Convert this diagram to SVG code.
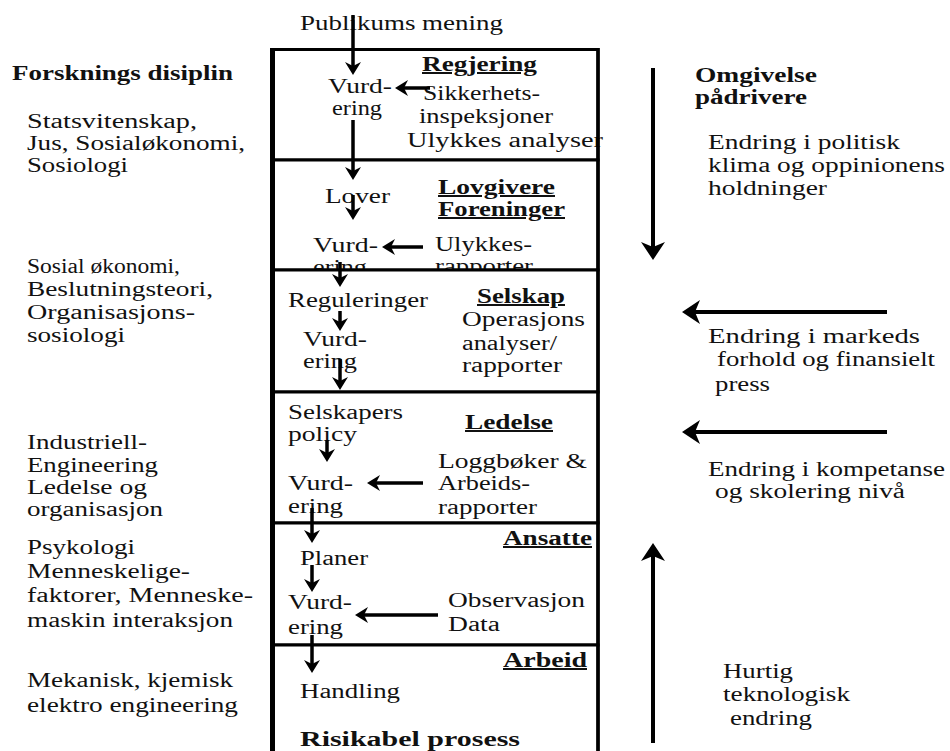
<svg xmlns="http://www.w3.org/2000/svg" width="950" height="751" viewBox="0 0 950 751">
<style>
.t{fill:#111}
.b{font-weight:bold}
.u{text-decoration:underline}
.row{fill:#fff;stroke:#000;stroke-width:3}
.frame{stroke:#000;fill:none}
.c{stroke:#000;stroke-width:3.5;fill:none;marker-end:url(#ah)}
.cl{stroke:#000;stroke-width:4;fill:none;marker-end:url(#ahL)}
</style>
<defs>
<marker id="ah" viewBox="0 0 13 16" markerWidth="13" markerHeight="16" refX="4" refY="8" orient="auto" markerUnits="userSpaceOnUse">
<path d="M0,0 L13,8 L0,16 L4,8 Z" fill="#000"/>
</marker>
<marker id="ahL" viewBox="0 0 18 24" markerWidth="18" markerHeight="24" refX="5" refY="12" orient="auto" markerUnits="userSpaceOnUse">
<path d="M0,0 L18,12 L0,24 L5,12 Z" fill="#000"/>
</marker>
</defs>
<rect width="950" height="751" fill="#fff"/>

<g id="publikum">
<text class="t" font-family="Liberation Serif" font-size="20" x="300" y="30" textLength="203" lengthAdjust="spacingAndGlyphs">Publikums mening</text>
</g>

<g id="regjering">
<rect class="row" x="272.5" y="49.5" width="325.5" height="110.5"/>
<text class="t b u" font-family="Liberation Serif" font-size="20" x="422" y="71" textLength="115" lengthAdjust="spacingAndGlyphs">Regjering</text>
<text class="t" font-family="Liberation Serif" font-size="20" x="328" y="93" textLength="64" lengthAdjust="spacingAndGlyphs">Vurd-</text>
<text class="t" font-family="Liberation Serif" font-size="20" x="332" y="115" textLength="50" lengthAdjust="spacingAndGlyphs">ering</text>
<text class="t" font-family="Liberation Serif" font-size="20" x="423" y="100" textLength="117" lengthAdjust="spacingAndGlyphs">Sikkerhets-</text>
<text class="t" font-family="Liberation Serif" font-size="20" x="419" y="123" textLength="134" lengthAdjust="spacingAndGlyphs">inspeksjoner</text>
<text class="t" font-family="Liberation Serif" font-size="20" x="407" y="147" textLength="196" lengthAdjust="spacingAndGlyphs">Ulykkes analyser</text>
</g>

<g id="lovgivere">
<rect class="row" x="272.5" y="160" width="325.5" height="110"/>
<text class="t" font-family="Liberation Serif" font-size="20" x="325" y="203" textLength="65" lengthAdjust="spacingAndGlyphs">Lover</text>
<text class="t b u" font-family="Liberation Serif" font-size="20" x="438" y="194" textLength="117" lengthAdjust="spacingAndGlyphs">Lovgivere</text>
<text class="t b u" font-family="Liberation Serif" font-size="20" x="438" y="216" textLength="127" lengthAdjust="spacingAndGlyphs">Foreninger</text>
<text class="t" font-family="Liberation Serif" font-size="20" x="313" y="252" textLength="65" lengthAdjust="spacingAndGlyphs">Vurd-</text>
<text class="t" font-family="Liberation Serif" font-size="20" x="313" y="274" textLength="54" lengthAdjust="spacingAndGlyphs">ering</text>
<text class="t" font-family="Liberation Serif" font-size="20" x="435" y="251" textLength="97" lengthAdjust="spacingAndGlyphs">Ulykkes-</text>
<text class="t" font-family="Liberation Serif" font-size="20" x="435" y="273" textLength="98" lengthAdjust="spacingAndGlyphs">rapporter</text>
</g>

<g id="selskap">
<rect class="row" x="272.5" y="270" width="325.5" height="122"/>
<text class="t" font-family="Liberation Serif" font-size="20" x="288" y="307" textLength="140" lengthAdjust="spacingAndGlyphs">Reguleringer</text>
<text class="t" font-family="Liberation Serif" font-size="20" x="303" y="346" textLength="64" lengthAdjust="spacingAndGlyphs">Vurd-</text>
<text class="t" font-family="Liberation Serif" font-size="20" x="303" y="368" textLength="54" lengthAdjust="spacingAndGlyphs">ering</text>
<text class="t b u" font-family="Liberation Serif" font-size="20" x="477" y="303" textLength="88" lengthAdjust="spacingAndGlyphs">Selskap</text>
<text class="t" font-family="Liberation Serif" font-size="20" x="462" y="326" textLength="123" lengthAdjust="spacingAndGlyphs">Operasjons</text>
<text class="t" font-family="Liberation Serif" font-size="20" x="462" y="350" textLength="95" lengthAdjust="spacingAndGlyphs">analyser/</text>
<text class="t" font-family="Liberation Serif" font-size="20" x="462" y="372" textLength="100" lengthAdjust="spacingAndGlyphs">rapporter</text>
</g>

<g id="ledelse">
<rect class="row" x="272.5" y="392" width="325.5" height="131"/>
<text class="t" font-family="Liberation Serif" font-size="20" x="288" y="419" textLength="115" lengthAdjust="spacingAndGlyphs">Selskapers</text>
<text class="t" font-family="Liberation Serif" font-size="20" x="288" y="441" textLength="69" lengthAdjust="spacingAndGlyphs">policy</text>
<text class="t b u" font-family="Liberation Serif" font-size="20" x="465" y="429" textLength="88" lengthAdjust="spacingAndGlyphs">Ledelse</text>
<text class="t" font-family="Liberation Serif" font-size="20" x="288" y="490" textLength="65" lengthAdjust="spacingAndGlyphs">Vurd-</text>
<text class="t" font-family="Liberation Serif" font-size="20" x="288" y="513" textLength="55" lengthAdjust="spacingAndGlyphs">ering</text>
<text class="t" font-family="Liberation Serif" font-size="20" x="438" y="468" textLength="149" lengthAdjust="spacingAndGlyphs">Loggbøker &amp;</text>
<text class="t" font-family="Liberation Serif" font-size="20" x="438" y="490" textLength="92" lengthAdjust="spacingAndGlyphs">Arbeids-</text>
<text class="t" font-family="Liberation Serif" font-size="20" x="438" y="514" textLength="99" lengthAdjust="spacingAndGlyphs">rapporter</text>
</g>

<g id="ansatte">
<rect class="row" x="272.5" y="523" width="325.5" height="122"/>
<text class="t b u" font-family="Liberation Serif" font-size="20" x="503" y="545" textLength="89" lengthAdjust="spacingAndGlyphs">Ansatte</text>
<text class="t" font-family="Liberation Serif" font-size="20" x="300" y="565" textLength="68" lengthAdjust="spacingAndGlyphs">Planer</text>
<text class="t" font-family="Liberation Serif" font-size="20" x="288" y="609" textLength="64" lengthAdjust="spacingAndGlyphs">Vurd-</text>
<text class="t" font-family="Liberation Serif" font-size="20" x="288" y="634" textLength="55" lengthAdjust="spacingAndGlyphs">ering</text>
<text class="t" font-family="Liberation Serif" font-size="20" x="448" y="607" textLength="137" lengthAdjust="spacingAndGlyphs">Observasjon</text>
<text class="t" font-family="Liberation Serif" font-size="20" x="448" y="631" textLength="52" lengthAdjust="spacingAndGlyphs">Data</text>
</g>

<g id="arbeid">
<rect class="row" x="272.5" y="645" width="325.5" height="120"/>
<text class="t b u" font-family="Liberation Serif" font-size="20" x="503" y="667" textLength="84" lengthAdjust="spacingAndGlyphs">Arbeid</text>
<text class="t" font-family="Liberation Serif" font-size="20" x="300" y="698" textLength="100" lengthAdjust="spacingAndGlyphs">Handling</text>
<text class="t b" font-family="Liberation Serif" font-size="20" x="300" y="746" textLength="220" lengthAdjust="spacingAndGlyphs">Risikabel prosess</text>
</g>

<g id="frame">
<line class="frame" x1="272.5" y1="48" x2="272.5" y2="760" stroke-width="5"/>
<line class="frame" x1="598" y1="48" x2="598" y2="760" stroke-width="3.5"/>
</g>

<g id="forskning">
<text class="t b" font-family="Liberation Serif" font-size="20" x="12" y="80" textLength="221" lengthAdjust="spacingAndGlyphs">Forsknings disiplin</text>
<text class="t" font-family="Liberation Serif" font-size="20" x="27" y="128" textLength="170" lengthAdjust="spacingAndGlyphs">Statsvitenskap,</text>
<text class="t" font-family="Liberation Serif" font-size="20" x="27" y="150" textLength="218" lengthAdjust="spacingAndGlyphs">Jus, Sosialøkonomi,</text>
<text class="t" font-family="Liberation Serif" font-size="20" x="27" y="172" textLength="101" lengthAdjust="spacingAndGlyphs">Sosiologi</text>
<text class="t" font-family="Liberation Serif" font-size="20" x="27" y="273" textLength="153" lengthAdjust="spacingAndGlyphs">Sosial økonomi,</text>
<text class="t" font-family="Liberation Serif" font-size="20" x="27" y="296" textLength="186" lengthAdjust="spacingAndGlyphs">Beslutningsteori,</text>
<text class="t" font-family="Liberation Serif" font-size="20" x="27" y="319" textLength="168" lengthAdjust="spacingAndGlyphs">Organisasjons-</text>
<text class="t" font-family="Liberation Serif" font-size="20" x="27" y="342" textLength="98" lengthAdjust="spacingAndGlyphs">sosiologi</text>
<text class="t" font-family="Liberation Serif" font-size="20" x="27" y="449" textLength="120" lengthAdjust="spacingAndGlyphs">Industriell-</text>
<text class="t" font-family="Liberation Serif" font-size="20" x="27" y="472" textLength="131" lengthAdjust="spacingAndGlyphs">Engineering</text>
<text class="t" font-family="Liberation Serif" font-size="20" x="27" y="494" textLength="120" lengthAdjust="spacingAndGlyphs">Ledelse og</text>
<text class="t" font-family="Liberation Serif" font-size="20" x="27" y="516" textLength="136" lengthAdjust="spacingAndGlyphs">organisasjon</text>
<text class="t" font-family="Liberation Serif" font-size="20" x="27" y="554" textLength="108" lengthAdjust="spacingAndGlyphs">Psykologi</text>
<text class="t" font-family="Liberation Serif" font-size="20" x="27" y="578" textLength="163" lengthAdjust="spacingAndGlyphs">Menneskelige-</text>
<text class="t" font-family="Liberation Serif" font-size="20" x="27" y="602" textLength="226" lengthAdjust="spacingAndGlyphs">faktorer, Menneske-</text>
<text class="t" font-family="Liberation Serif" font-size="20" x="27" y="627" textLength="206" lengthAdjust="spacingAndGlyphs">maskin interaksjon</text>
<text class="t" font-family="Liberation Serif" font-size="20" x="27" y="687" textLength="206" lengthAdjust="spacingAndGlyphs">Mekanisk, kjemisk</text>
<text class="t" font-family="Liberation Serif" font-size="20" x="27" y="712" textLength="211" lengthAdjust="spacingAndGlyphs">elektro engineering</text>
</g>

<g id="omgivelse">
<text class="t b" font-family="Liberation Serif" font-size="20" x="695" y="82" textLength="122" lengthAdjust="spacingAndGlyphs">Omgivelse</text>
<text class="t b" font-family="Liberation Serif" font-size="20" x="695" y="104" textLength="112" lengthAdjust="spacingAndGlyphs">pådrivere</text>
<text class="t" font-family="Liberation Serif" font-size="20" x="708" y="149" textLength="192" lengthAdjust="spacingAndGlyphs">Endring i politisk</text>
<text class="t" font-family="Liberation Serif" font-size="20" x="708" y="172" textLength="237" lengthAdjust="spacingAndGlyphs">klima og oppinionens</text>
<text class="t" font-family="Liberation Serif" font-size="20" x="708" y="195" textLength="119" lengthAdjust="spacingAndGlyphs">holdninger</text>
<text class="t" font-family="Liberation Serif" font-size="20" x="708" y="343" textLength="212" lengthAdjust="spacingAndGlyphs">Endring i markeds</text>
<text class="t" font-family="Liberation Serif" font-size="20" x="717" y="366" textLength="218" lengthAdjust="spacingAndGlyphs">forhold og finansielt</text>
<text class="t" font-family="Liberation Serif" font-size="20" x="715" y="391" textLength="55" lengthAdjust="spacingAndGlyphs">press</text>
<text class="t" font-family="Liberation Serif" font-size="20" x="708" y="476" textLength="237" lengthAdjust="spacingAndGlyphs">Endring i kompetanse</text>
<text class="t" font-family="Liberation Serif" font-size="20" x="715" y="498" textLength="190" lengthAdjust="spacingAndGlyphs">og skolering nivå</text>
<text class="t" font-family="Liberation Serif" font-size="20" x="723" y="678" textLength="70" lengthAdjust="spacingAndGlyphs">Hurtig</text>
<text class="t" font-family="Liberation Serif" font-size="20" x="723" y="701" textLength="127" lengthAdjust="spacingAndGlyphs">teknologisk</text>
<text class="t" font-family="Liberation Serif" font-size="20" x="730" y="725" textLength="82" lengthAdjust="spacingAndGlyphs">endring</text>
</g>

<g id="connectors">
<path class="c" d="M353,15 V66"/>
<path class="c" d="M430,88 H404"/>
<path class="c" d="M353,120 V171"/>
<path class="c" d="M353,195 V211"/>
<path class="c" d="M423,247 H391"/>
<path class="c" d="M340,262 V278"/>
<path class="c" d="M340,311 V322"/>
<path class="c" d="M340,359 V381"/>
<path class="c" d="M327,440 V453"/>
<path class="c" d="M423,483 H376"/>
<path class="c" d="M312,508 V534"/>
<path class="c" d="M312,565 V583"/>
<path class="c" d="M438,615 H364"/>
<path class="c" d="M312,635 V664"/>
<path class="cl" d="M653,68 V247"/>
<path class="cl" d="M887,312 H695"/>
<path class="cl" d="M887,432 H695"/>
<path class="cl" d="M653,743 V556"/>
</g>
</svg>
